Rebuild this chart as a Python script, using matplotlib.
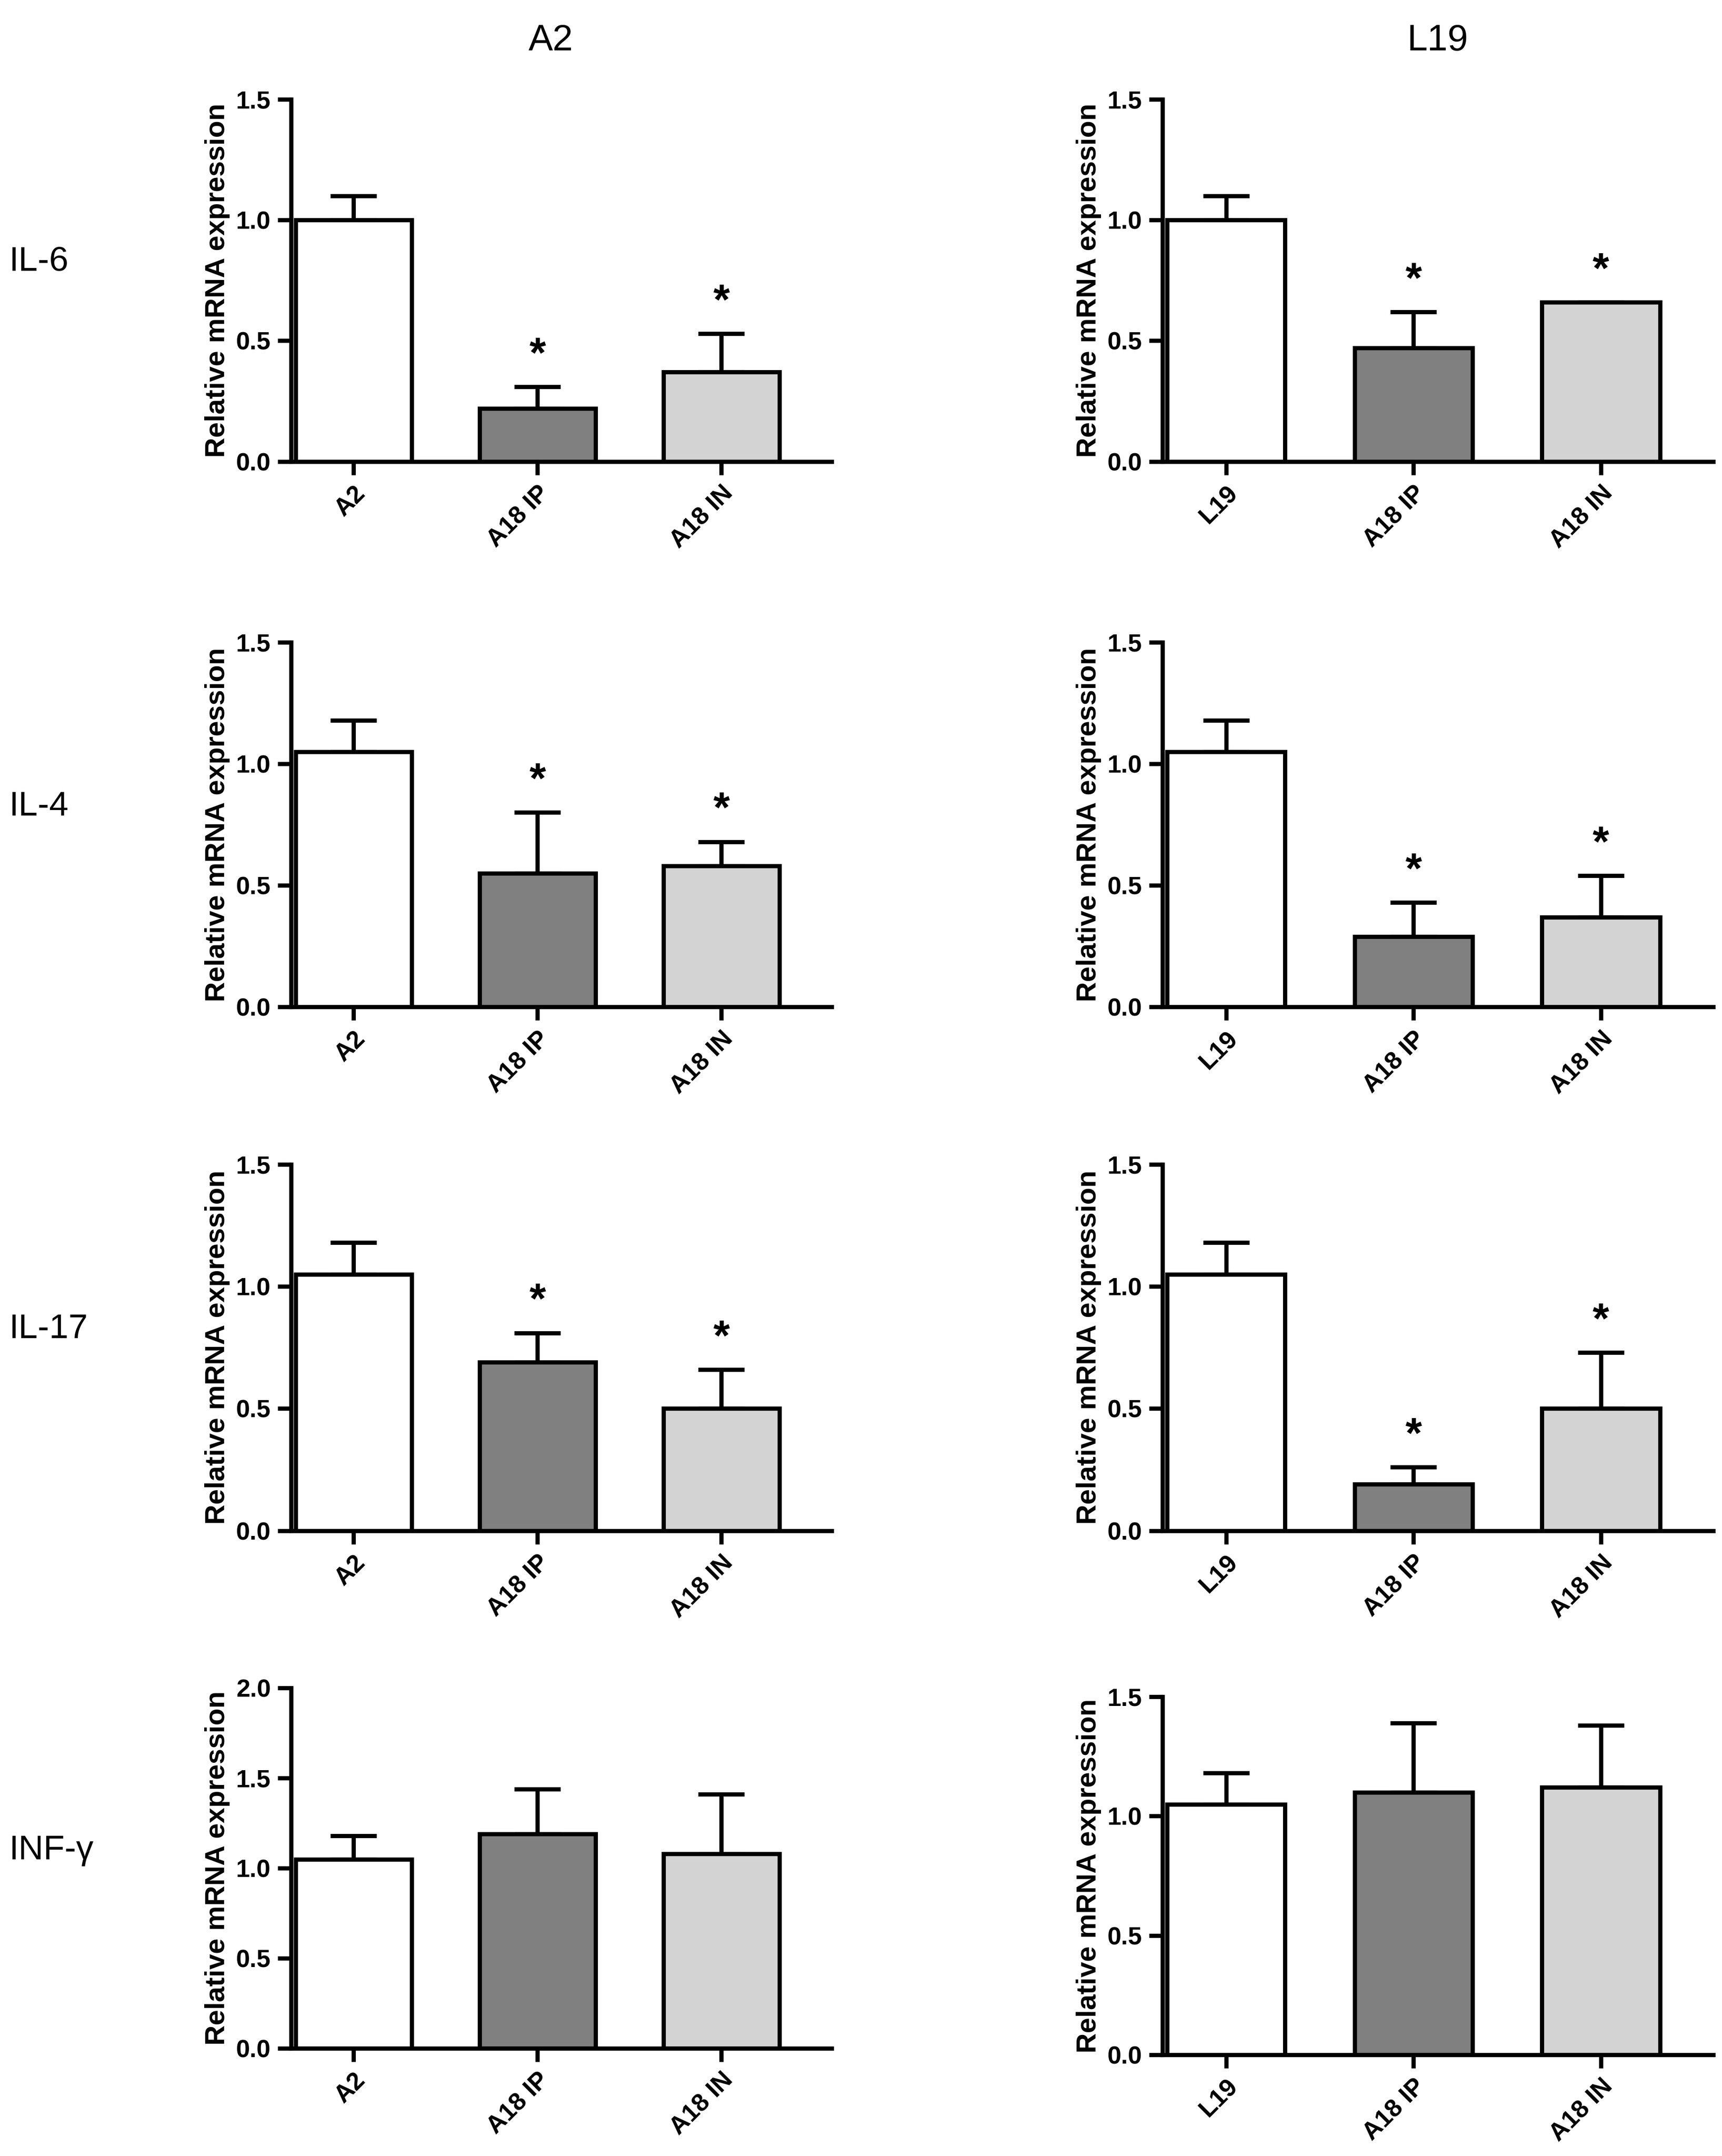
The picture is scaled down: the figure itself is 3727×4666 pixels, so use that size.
import matplotlib
matplotlib.use("Agg")
import matplotlib.pyplot as plt

rows = ["IL-6", "IL-4", "IL-17", "INF-γ"]
left_cats = ["A2", "A18 IP", "A18 IN"]
right_cats = ["L19", "A18 IP", "A18 IN"]
colors = ["white", "#808080", "#d3d3d3"]

a2_means = [[1.0, 0.22, 0.37], [1.05, 0.55, 0.58], [1.05, 0.69, 0.50], [1.05, 1.19, 1.08]]
a2_errs = [[0.10, 0.09, 0.16], [0.13, 0.25, 0.10], [0.13, 0.12, 0.16], [0.13, 0.25, 0.33]]
a2_stars = [[0, 1, 1], [0, 1, 1], [0, 1, 1], [0, 0, 0]]
l19_means = [[1.0, 0.47, 0.66], [1.05, 0.29, 0.37], [1.05, 0.19, 0.50], [1.05, 1.10, 1.12]]
l19_errs = [[0.10, 0.15, 0.0], [0.13, 0.14, 0.17], [0.13, 0.07, 0.23], [0.13, 0.29, 0.26]]
l19_stars = [[0, 1, 1], [0, 1, 1], [0, 1, 1], [0, 0, 0]]
ymax_left = [1.5, 1.5, 1.5, 2.0]
ymax_right = [1.5, 1.5, 1.5, 1.5]

plt.rcParams["font.family"] = "Liberation Sans"
fig = plt.figure(figsize=(3727/300, 4666/300), dpi=300)

left_pos = [(0.169, 0.786, 0.314, 0.168), (0.169, 0.533, 0.314, 0.169),
            (0.169, 0.290, 0.314, 0.170), (0.169, 0.050, 0.314, 0.167)]
right_pos = [(0.675, 0.786, 0.320, 0.168), (0.675, 0.533, 0.320, 0.169),
             (0.675, 0.290, 0.320, 0.170), (0.675, 0.047, 0.320, 0.166)]

def panel(pos, cats, means, errs, stars, ymax):
    ax = fig.add_axes(pos)
    x = range(len(cats))
    ax.bar(x, means, width=0.63, color=colors, edgecolor="black", linewidth=2.2, zorder=2)
    ax.errorbar(x, means, yerr=[[0]*3, errs], fmt="none", ecolor="black",
                elinewidth=2.2, capsize=12, capthick=2.2, zorder=1)
    for i, s in enumerate(stars):
        if s:
            ax.text(i, means[i] + errs[i] + 0.03*ymax, "*", ha="center", va="bottom",
                    fontsize=22, fontweight="bold")
    ax.set_xlim(-0.34, 2.6)
    ax.set_ylim(0, ymax)
    n = int(ymax/0.5) + 1
    ax.set_yticks([i*0.5 for i in range(n)])
    ax.set_yticklabels([f"{i*0.5:.1f}" for i in range(n)], fontweight="bold", fontsize=13)
    ax.set_xticks(list(x))
    ax.set_xticklabels(cats, rotation=45, ha="right", rotation_mode="anchor",
                       fontweight="bold", fontsize=13)
    ax.set_ylabel("Relative mRNA expression", fontweight="bold", fontsize=14.5, labelpad=3)
    for sp in ["top", "right"]:
        ax.spines[sp].set_visible(False)
    for sp in ["left", "bottom"]:
        ax.spines[sp].set_linewidth(2.2)
    ax.tick_params(width=2.2, length=7)
    return ax

for r in range(4):
    panel(left_pos[r], left_cats, a2_means[r], a2_errs[r], a2_stars[r], ymax_left[r])
    panel(right_pos[r], right_cats, l19_means[r], l19_errs[r], l19_stars[r], ymax_right[r])
    p = left_pos[r]
    fig.text(0.005, p[1] + p[3]*0.55, rows[r], fontsize=18, va="center", ha="left")

fig.text(0.32, 0.981, "A2", fontsize=19, ha="center", va="center")
fig.text(0.835, 0.981, "L19", fontsize=19, ha="center", va="center")

fig.savefig("out.png", dpi=300, facecolor="white")
